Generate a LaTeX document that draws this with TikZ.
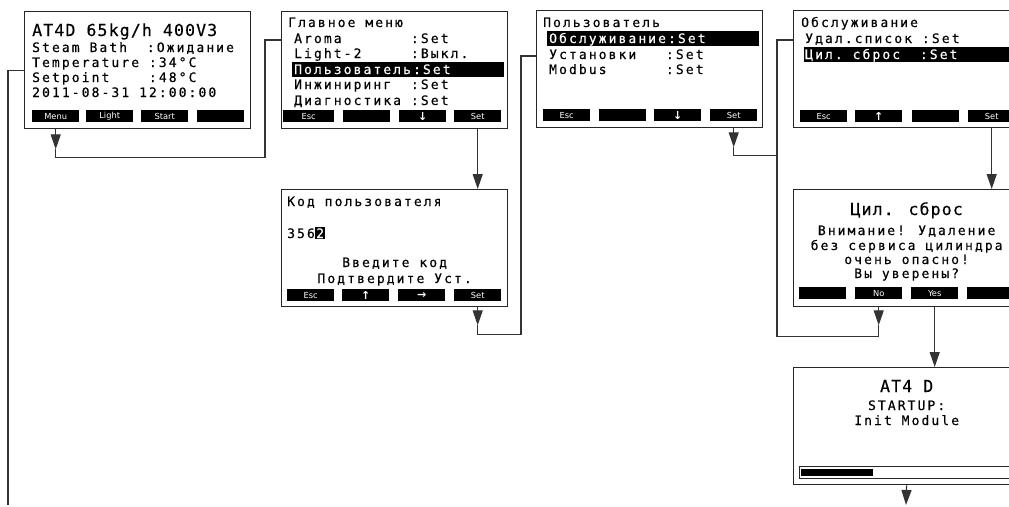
\documentclass[tikz,border=0pt]{standalone}
\usepackage{fontspec}
\usepackage{tikz}
\usetikzlibrary{arrows.meta,calc}
\newfontfamily\lcdfont[LetterSpace=16, FakeBold=0.4]{DejaVu Sans Mono}
\newfontfamily\lcdbigfont[LetterSpace=7, FakeBold=0.4]{DejaVu Sans Mono}
\newfontfamily\keyfont{DejaVu Sans}
\newcommand{\lcdsmall}{\fontsize{13pt}{15pt}\lcdfont}
\newcommand{\lcdbig}{\fontsize{16.5pt}{19pt}\lcdbigfont}
\newcommand{\keyarrow}[1]{{\fontsize{11pt}{11pt}\bfseries #1}}

\begin{document}
\begin{tikzpicture}[x=1pt, y=-1pt,
  screen/.style={draw=black!85, line width=1.3pt, anchor=north west, inner sep=0pt, minimum width=226pt, minimum height=117pt},
  softkey/.style={fill=black, anchor=north west, inner sep=0pt, minimum width=47pt, minimum height=12pt, text=white, font=\fontsize{8.3pt}{9pt}\keyfont},
  lcd/.style={anchor=base west, inner sep=0pt, text=black, font=\lcdsmall},
  lcdc/.style={anchor=base, inner sep=0pt, text=black, font=\lcdsmall},
  big/.style={font=\lcdbig},
  hilite/.style={fill=black, anchor=north west, inner sep=0pt, minimum width=212pt, minimum height=15pt},
  flow/.style={draw=black!80, line width=1.2pt},
  flowarrow/.style={flow, -{Triangle[length=15pt,width=10pt]}}]
  \useasboundingbox (0,0) rectangle (1009,506);
  \clip (0,0) rectangle (1009,506);

  % screens
  \node[screen] (s1) at (24,11) {};
  \node[screen] (s2) at (281,11) {};
  \node[screen] (s3) at (536,10) {};
  \node[screen] (s4) at (793,10) {};
  \node[screen] (code) at (281,189) {};
  \node[screen] (cyl) at (793,189) {};
  \node[screen] (boot) at (793,367) {};

  % soft keys
  \foreach \o/\l [count=\i] in {8/Menu, 62/Light, 117/Start, 173/{}}
    \node[softkey] (s1k\i) at ($(s1.north west)+(\o,99)$) {\l};
  \node[softkey, minimum width=51pt] (s2k1) at ($(s2.north west)+(2,99)$) {Esc};
  \foreach \o/\l [count=\i from 2] in {62/{}, 118/\keyarrow{↓}, 173/Set}
    \node[softkey] (s2k\i) at ($(s2.north west)+(\o,99)$) {\l};
  \foreach \o/\l [count=\i] in {7/Esc, 63/{}, 118/\keyarrow{↓}, 174/Set}
    \node[softkey] (s3k\i) at ($(s3.north west)+(\o,99)$) {\l};
  \foreach \o/\l [count=\i] in {7/Esc, 62/\keyarrow{↑}, 119/{}, 175/Set}
    \node[softkey] (s4k\i) at ($(s4.north west)+(\o,100)$) {\l};
  \foreach \o/\l [count=\i] in {6/Esc, 61/\keyarrow{↑}, 117/\keyarrow{→}, 173/Set}
    \node[softkey] (codek\i) at ($(code.north west)+(\o,100)$) {\l};
  \foreach \o/\l [count=\i] in {6/{}, 62/No, 118/Yes, 174/{}}
    \node[softkey] (cylk\i) at ($(cyl.north west)+(\o,98)$) {\l};

  % home screen
  \node[lcd, big] (t1) at ($(s1.north west)+(8,25)$) {AT4D 65kg/h 400V3};
  \node[lcd] (l11) at ($(s1.north west)+(8,41)$) {Steam Bath~~:Ожидание};
  \node[lcd] (l12) at ($(s1.north west)+(8,56)$) {Temperature~:34°C};
  \node[lcd] (l13) at ($(s1.north west)+(8,71)$) {Setpoint~~~~:48°C};
  \node[lcd] (l14) at ($(s1.north west)+(8,86)$) {2011-08-31 12:00:00};

  % main menu
  \node[lcd] (t2) at ($(s2.north west)+(7,16)$) {Главное меню};
  \node[hilite] (b2) at ($(s2.north west)+(11,51)$) {};
  \node[lcd] (l21) at ($(s2.north west)+(13,32)$) {Aroma~~~~~~~:Set};
  \node[lcd] (l22) at ($(s2.north west)+(13,47)$) {Light-2~~~~~:Выкл.};
  \node[lcd, text=white] (l23) at ($(s2.north west)+(13,63)$) {Пользователь:Set};
  \node[lcd] (l24) at ($(s2.north west)+(13,78)$) {Инжиниринг~~:Set};
  \node[lcd] (l25) at ($(s2.north west)+(13,94)$) {Диагностика~:Set};

  % user menu
  \node[lcd] (t3) at ($(s3.north west)+(7,17)$) {Пользователь};
  \node[hilite] (b3) at ($(s3.north west)+(11,21)$) {};
  \node[lcd, text=white] (l31) at ($(s3.north west)+(13,33)$) {Обслуживание:Set};
  \node[lcd] (l32) at ($(s3.north west)+(13,49)$) {Установки~~~:Set};
  \node[lcd] (l33) at ($(s3.north west)+(13,64)$) {Modbus~~~~~~:Set};

  % service menu
  \node[lcd] (t4) at ($(s4.north west)+(8,17)$) {Обслуживание};
  \node[hilite] (b4) at ($(s4.north west)+(11,37)$) {};
  \node[lcd] (l41) at ($(s4.north west)+(12,33)$) {Удал.список~:Set};
  \node[lcd, text=white] (l42) at ($(s4.north west)+(12,49)$) {Цил.~сброс~~:Set};

  % user code
  \node[lcd] (t5) at ($(code.north west)+(6,17)$) {Код пользователя};
  \node[lcd] (pin) at ($(code.north west)+(6,49)$) {356};
  \node[anchor=base west, inner sep=1pt, fill=black, text=white, font=\lcdsmall] (pinx) at (pin.base east) {2};
  \node[lcdc] (l51) at ($(code.north)+(0,78)$) {Введите код};
  \node[lcdc] (l52) at ($(code.north)+(0,94)$) {Подтвердите Уст.};

  % cylinder reset
  \node[lcdc, big] (t6) at ($(cyl.north)+(0,26)$) {Цил. сброс};
  \node[lcdc] (l61) at ($(cyl.north)+(0,46)$) {Внимание! Удаление};
  \node[lcdc] (l62) at ($(cyl.north)+(0,61)$) {без сервиса цилиндра};
  \node[lcdc] (l63) at ($(cyl.north)+(0,75)$) {очень опасно!};
  \node[lcdc] (l64) at ($(cyl.north)+(0,89)$) {Вы уверены?};

  % startup
  \node[lcdc, big] (t7) at ($(boot.north)+(0,25)$) {AT4 D};
  \node[lcdc] (l71) at ($(boot.north)+(0,43)$) {STARTUP:};
  \node[lcdc] (l72) at ($(boot.north)+(0,58)$) {Init Module};
  \node[draw=black!85, line width=0.8pt, anchor=north west, inner sep=0pt, minimum width=214pt, minimum height=12pt] (bar) at ($(boot.north west)+(6,99)$) {};
  \node[fill=black, anchor=north west, inner sep=0pt, minimum width=72pt, minimum height=7pt] (barfill) at ($(bar.north west)+(2,3)$) {};

  % connectors
  \coordinate (j12) at (265,40);
  \coordinate (j23) at (521,56);
  \coordinate (j34) at (777,40);
  \coordinate (bootin) at (8,505);
  \coordinate (bootout) at (906,505);

  \draw[flowarrow] (s1k1 |- s1.south) -- ++(0,20) coordinate (m1);
  \draw[flow] (m1) -- ++(0,8) -| (j12) -- (j12 -| s2.west);
  \draw[flowarrow] (s2k4 |- s2.south) -- (s2k4 |- code.north);
  \draw[flowarrow] (codek4 |- code.south) -- ++(0,18) coordinate (m2);
  \draw[flow] (m2) -- ++(0,9) -| (j23) -- (j23 -| s3.west);
  \draw[flowarrow] (s3k4 |- s3.south) -- ++(0,19) coordinate (m3);
  \draw[flow] (m3) -- ++(0,8) -| (j34) -- (j34 -| s4.west);
  \draw[flowarrow] (s4k4 |- s4.south) -- (s4k4 |- cyl.north);
  \draw[flowarrow] (cylk2 |- cyl.south) -- ++(0,18) coordinate (m4);
  \draw[flow] (m4) -- ++(0,11) -| (j34);
  \draw[flowarrow] (cylk3 |- cyl.south) -- (cylk3 |- boot.north);
  \draw[flowarrow] (boot.south) -- (bootout);
  \draw[flow] (bootin) |- (s1.west);
\end{tikzpicture}
\end{document}
